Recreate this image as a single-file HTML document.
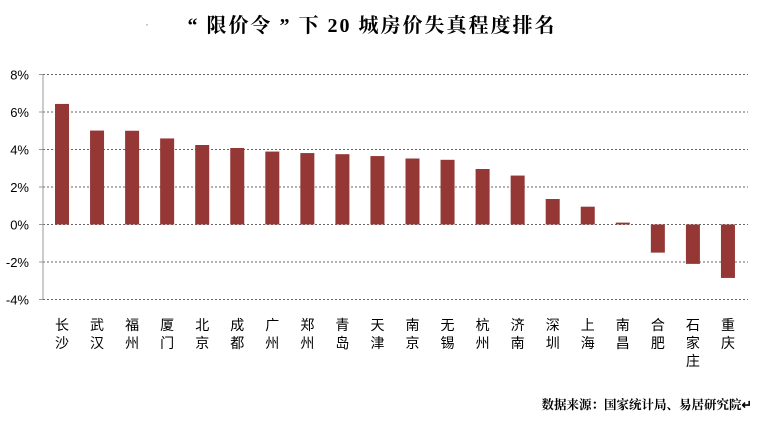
<!DOCTYPE html>
<html><head><meta charset="utf-8"><style>
body{margin:0;background:#fff;width:758px;height:419px;overflow:hidden}
</style></head><body>
<svg width="758" height="419" xmlns="http://www.w3.org/2000/svg" font-family="'Liberation Sans','Noto Sans CJK SC',sans-serif">
<text x="372" y="32" text-anchor="middle" font-size="20" font-weight="bold" letter-spacing="2" font-family="'Liberation Serif','Noto Serif CJK SC',serif">“ 限价令 ” 下 20 城房价失真程度排名</text>
<text x="145" y="28" font-size="12" fill="#888">·</text>
<g id="grid"></g><g id="bars"></g><g id="labels"></g>
<line x1="43" y1="74.5" x2="43" y2="299" stroke="#999"/>
<text x="752" y="409" text-anchor="end" font-size="12.5" font-weight="bold" font-family="'Liberation Serif','Noto Serif CJK SC',serif">数据来源：国家统计局、易居研究院↵</text>
</svg>
<script>
const cities=["长沙","武汉","福州","厦门","北京","成都","广州","郑州","青岛","天津","南京","无锡","杭州","济南","深圳","上海","南昌","合肥","石家庄","重庆"];
const values=[6.43,5.01,5.0,4.59,4.24,4.08,3.89,3.81,3.75,3.65,3.52,3.45,2.96,2.61,1.36,0.95,0.1,-1.5,-2.1,-2.85];
const ticks=[8,6,4,2,0,-2,-4];
const NS="http://www.w3.org/2000/svg";
const y=v=>224.5-v*18.75;
const x=i=>62+i*35.05;
const g=document.getElementById('grid'),b=document.getElementById('bars'),l=document.getElementById('labels');
function mk(t,a){const e=document.createElementNS(NS,t);for(const k in a)e.setAttribute(k,a[k]);return e;}
ticks.forEach(t=>{
 const ln=mk('line',{x1:43,x2:748,y1:y(t),y2:y(t),stroke:'#666','stroke-dasharray':'2,2'});
 
 
 g.appendChild(ln);
 const tk=mk('line',{x1:39,x2:43,y1:y(t),y2:y(t),stroke:'#999'});
 
 
 g.appendChild(tk);
 const tx=mk('text',{x:29,y:y(t)+5,'text-anchor':'end','font-size':13});
 tx.textContent=t+'%';
 
 
 g.appendChild(tx);
});
values.forEach((v,i)=>{
 const top=Math.min(y(v),y(0)),h=Math.abs(y(v)-y(0));
 const r=mk('rect',{x:x(i)-7,y:top,width:14,height:h,fill:'#953735'});
 
 
 b.appendChild(r);
 [...cities[i]].forEach((c,j)=>{
  const t=mk('text',{x:x(i),y:330+j*18,'text-anchor':'middle','font-size':14});
  t.textContent=c;
  
  
  l.appendChild(t);
 });
});
</script>
</body></html>
